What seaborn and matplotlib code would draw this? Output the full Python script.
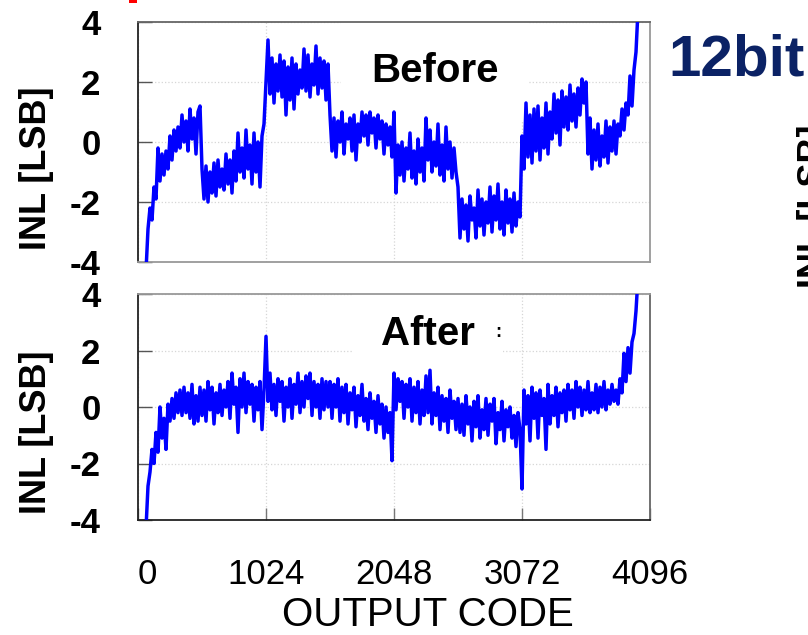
import matplotlib
matplotlib.use("Agg")
import matplotlib.pyplot as plt
import seaborn as sns
import pandas as pd
from matplotlib.patches import Rectangle

# ---------------- data ----------------
codes = list(range(64, 4001, 16))

inl_before = [
    # 64 .. 496
    -4.3, -2.9, -2.2, -2.6, -1.5, -1.9, -0.2, -1.3,
    -0.4, -1.1, -0.3, -0.9, 0.2, -0.6, 0.4, -0.3,
    0.5, -0.2, 0.9, 0.0, 0.7, -0.3, 1.1, 0.1,
    0.8, -0.4, 1.0, 1.2,
    # 512 .. 1008
    -0.9, -1.9, -0.8, -2.0, -1.0, -1.7, -0.7, -1.8,
    -0.6, -1.5, -0.9, -1.6, -0.4, -1.4, -0.6, -1.7,
    -0.3, -1.3, 0.3, -1.0, -0.2, -1.2, 0.4, -0.9,
    -0.1, -1.4, 0.3, -1.0, 0.0, -1.5, 0.2, 0.6,
    # 1024 .. 1520
    2.0, 3.4, 1.6, 2.8, 1.3, 2.6, 1.7, 2.9,
    1.5, 2.7, 0.9, 2.5, 1.4, 2.8, 1.1, 2.6,
    1.6, 2.4, 1.8, 3.1, 1.7, 2.9, 1.5, 2.6,
    1.9, 3.2, 1.6, 2.8, 1.8, 2.7, 1.4, 2.6,
    # 1536 .. 2032
    0.9, -0.3, 0.8, -0.5, 0.7, 0.0, 1.0, -0.4,
    0.6, 0.1, 0.8, -0.3, 0.9, -0.6, 0.6, 0.0,
    1.0, 0.2, 0.9, -0.1, 1.0, 0.3, 0.8, -0.2,
    0.9, 0.1, 0.7, -0.4, 0.6, -0.1, 0.5, -0.5,
    # 2048 .. 2544
    1.0, -1.7, -0.1, -1.1, 0.0, -1.3, -0.2, -0.9,
    0.3, -1.2, -0.3, -1.4, 0.1, -1.0, -0.2, -1.3,
    0.8, -0.6, 0.4, -1.0, 0.0, -0.8, 0.6, -1.1,
    -0.1, -1.3, 0.5, -0.9, 0.0, -1.2, -0.2, -1.0,
    # 2560 .. 3056
    -1.5, -3.2, -1.9, -2.9, -2.1, -3.3, -1.8, -2.6,
    -2.2, -3.2, -1.6, -2.8, -1.9, -3.1, -2.0, -2.7,
    -1.5, -3.0, -1.8, -2.6, -1.4, -2.9, -2.0, -3.1,
    -1.6, -2.7, -1.9, -3.0, -1.7, -2.8, -2.0, -2.5,
    # 3072 .. 3568
    0.2, -0.9, 1.3, -0.5, 0.9, -0.7, 1.1, -0.3,
    1.2, -0.6, 0.8, -0.2, 1.3, -0.4, 1.0, 0.1,
    1.6, 0.3, 1.4, -0.1, 1.7, 0.5, 1.5, 0.4,
    1.9, 0.7, 1.6, 0.5, 1.8, 0.9, 2.1, 1.3,
    # 3584 .. 4000
    2.0, -0.4, 0.8, -0.9, 0.4, -0.6, 0.6, -0.8,
    0.2, -0.5, 0.7, -0.7, 0.5, -0.3, 0.7, -0.4,
    0.6, 0.2, 1.1, 0.4, 1.3, 0.9, 2.2, 1.2,
    2.4, 3.0, 4.4,
]

inl_after = [
    # 64 .. 496
    -4.3, -2.8, -2.3, -1.5, -2.0, -0.9, -1.6, 0.0,
    -1.1, -0.4, -1.5, 0.1, -0.5, 0.3, -0.4, 0.5,
    -0.2, 0.6, -0.3, 0.7, -0.2, 0.5, -0.4, 0.8,
    -0.6, 0.4, -0.5, 0.7,
    # 512 .. 1008
    -0.3, 0.6, -0.5, 0.9, -0.1, 0.7, -0.6, 0.5,
    -0.2, 0.8, -0.3, 0.6, 0.0, 0.9, -0.4, 1.2,
    0.1, 0.7, -0.9, 1.0, 0.0, 1.2, -0.2, 0.9,
    0.1, 0.8, -0.5, 0.7, -0.1, 0.9, -0.8, 0.6,
    # 1024 .. 1520
    2.5, 0.2, 1.2, -0.1, 0.8, -0.3, 1.0, 0.2,
    0.9, -0.5, 0.7, 0.0, 1.0, -0.4, 0.8, 0.1,
    1.2, -0.2, 0.9, 0.0, 1.1, 0.3, 1.2, -0.3,
    0.9, 0.0, 0.8, -0.4, 1.0, -0.1, 0.9, 0.0,
    # 1536 .. 2032
    0.9, -0.4, 0.8, 0.0, 1.0, -0.5, 0.7, -0.2,
    0.8, -0.6, 0.5, -0.1, 0.7, -0.7, 0.4, -0.3,
    0.8, -0.5, 0.3, -0.8, 0.5, -0.4, 0.2, -0.9,
    0.4, -0.6, 0.1, -1.1, 0.0, -0.9, -0.2, -1.9,
    # 2048 .. 2544
    1.2, -0.1, 1.0, 0.2, 0.9, -0.4, 0.8, 0.0,
    1.0, -0.5, 0.7, -0.2, 0.9, -0.6, 0.6, -0.3,
    1.1, -0.2, 1.3, -0.6, 0.5, -0.3, 0.7, -0.8,
    0.4, -0.5, 0.3, -0.9, 0.6, -0.4, 0.2, -0.8,
    # 2560 .. 3056
    0.3, -0.9, 0.1, -1.0, 0.4, -0.6, 0.0, -1.2,
    0.2, -0.7, 0.4, -1.1, -0.1, -0.8, 0.3, -1.0,
    0.1, -0.5, 0.3, -1.3, -0.2, -0.8, 0.2, -1.2,
    -0.1, -0.7, 0.0, -1.1, -0.3, -1.4, -0.2, -0.8,
    # 3072 .. 3568
    -2.9, 0.6, -0.6, 0.4, -1.2, 0.7, -0.4, 0.5,
    -1.1, 0.6, -0.3, 0.3, -1.5, 0.8, -0.6, 0.4,
    -0.3, 0.7, -0.7, 0.5, -0.2, 0.6, -0.5, 0.8,
    -0.1, 0.6, -0.4, 0.9, 0.0, 0.7, -0.3, 0.6,
    # 3584 .. 4000
    -0.1, 0.9, -0.2, 0.5, -0.1, 0.8, -0.2, 0.7,
    0.0, 0.9, -0.1, 0.6, 0.1, 0.8, 0.2, 0.6,
    0.1, 1.0, 0.5, 1.9, 0.9, 2.1, 1.2, 2.3,
    2.6, 3.4, 4.6,
]

x_ticks = [0, 1024, 2048, 3072, 4096]
x_tick_labels = ["0", "1024", "2048", "3072", "4096"]
y_ticks = [-4, -2, 0, 2, 4]
y_tick_labels = ["-4", "-2", "0", "2", "4"]

assert len(codes) == len(inl_before) == len(inl_after)

# ---------------- style ----------------
sns.set_theme(style="white")
plt.rcParams["font.family"] = ["Liberation Sans", "DejaVu Sans"]
plt.rcParams["text.color"] = "black"
plt.rcParams["axes.labelcolor"] = "black"
plt.rcParams["xtick.color"] = "black"
plt.rcParams["ytick.color"] = "black"

W, H = 808, 635
fig = plt.figure(figsize=(W / 100, H / 100), dpi=100)
fig.patch.set_facecolor("white")

ax1 = fig.add_axes([138 / W, 1 - 262 / H, 512 / W, 240 / H])
ax2 = fig.add_axes([138 / W, 1 - 520 / H, 512 / W, 226 / H])

df_b = pd.DataFrame({"code": codes, "inl": inl_before})
df_a = pd.DataFrame({"code": codes, "inl": inl_after})

for ax, df in ((ax1, df_b), (ax2, df_a)):
    sns.lineplot(data=df, x="code", y="inl", ax=ax, color="#0000ff",
                 linewidth=2.5, estimator=None, zorder=3)
    ax.set_xlim(0, 4096)
    ax.set_ylim(-4, 4)
    ax.set_xticks(x_ticks)
    ax.set_yticks(y_ticks)
    ax.set_yticklabels(y_tick_labels, fontsize=25, fontweight="bold",
                       color="black")
    ax.set_xlabel("")
    ax.set_ylabel("")
    ax.set_axisbelow(True)
    ax.grid(True, color="#d6d6d6", linestyle=":", linewidth=0.9)
    ax.tick_params(axis="y", direction="in", length=10, width=1.0,
                   color="#555555", pad=27, labelcolor="black", left=True)
    ax.set_facecolor("white")

ax1.tick_params(axis="x", length=0, labelbottom=False)
ax2.set_xticklabels(x_tick_labels, fontsize=25, color="black")
ax2.tick_params(axis="x", direction="in", length=9, width=1.0,
                color="#777777", pad=27, bottom=True, labelcolor="black")
ax2.get_xticklabels()[0].set_ha("left")

for sp, c in (("left", "#222222"), ("top", "#666666"),
              ("right", "#999999"), ("bottom", "#999999")):
    ax1.spines[sp].set_color(c)
    ax1.spines[sp].set_linewidth(1.3)
for sp, c in (("left", "#222222"), ("bottom", "#222222"),
              ("top", "#999999"), ("right", "#666666")):
    ax2.spines[sp].set_color(c)
    ax2.spines[sp].set_linewidth(1.3)

# panel titles in white boxes
ax1.text(2376, 2.35, "Before", fontsize=29, fontweight="bold", ha="center",
         va="center", zorder=2, color="black",
         bbox=dict(facecolor="white", edgecolor="none", pad=22))
ax2.text(2320, 2.6, "After", fontsize=29, fontweight="bold", ha="center",
         va="center", zorder=2, color="black",
         bbox=dict(facecolor="white", edgecolor="none", pad=20))
ax2.text(2880, 2.65, ":", fontsize=13, fontweight="bold", ha="center",
         va="center", zorder=2, color="black")

# axis labels
fig.text(37 / W, 1 - 168 / H, "INL [LSB]", rotation=90, fontsize=26,
         fontweight="bold", ha="center", va="center", color="black")
fig.text(37 / W, 1 - 432 / H, "INL [LSB]", rotation=90, fontsize=26,
         fontweight="bold", ha="center", va="center", color="black")
fig.text(428 / W, 1 - 615 / H, "OUTPUT CODE", fontsize=29,
         ha="center", va="center", color="black")

# extra slide elements
fig.text(737 / W, 1 - 60 / H, "12bit", fontsize=42, fontweight="bold",
         color="#0b2265", ha="center", va="center")
fig.text(797 / W, 1 - 125 / H, "INL [LSB]", rotation=90, fontsize=26,
         fontweight="bold", ha="left", va="top", color="black")
fig.patches.append(Rectangle((129 / W, 1 - 3 / H), 8 / W, 3 / H,
                             transform=fig.transFigure, facecolor="red",
                             edgecolor="none"))

fig.savefig("out.png", dpi=100)
